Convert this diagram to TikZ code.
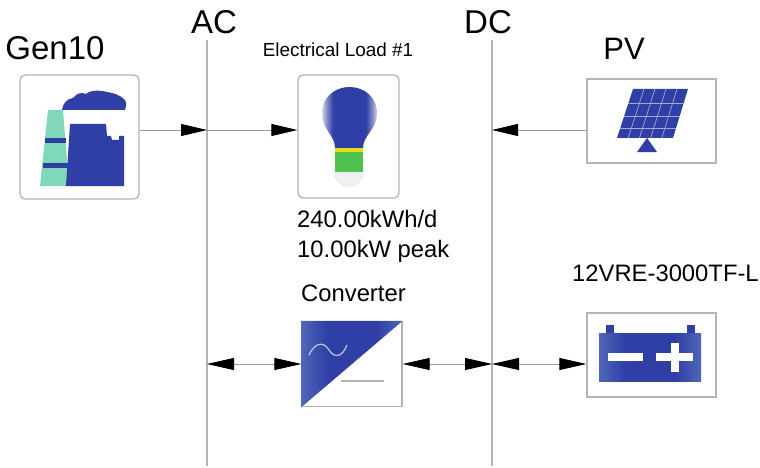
\documentclass[tikz,border=0pt]{standalone}
\usepackage{fontspec}
\setmainfont{Liberation Sans}
\usetikzlibrary{positioning,arrows.meta,shadings}
\definecolor{iconblue}{HTML}{2F3FA5}
\definecolor{iconlight}{HTML}{4F66B8}
\definecolor{mint}{HTML}{7FD9B8}
\definecolor{wire}{HTML}{B4B4B4}
\definecolor{bulbgreen}{HTML}{4CC24C}
\pgfdeclarehorizontalshading{bluefade}{100bp}{color(0bp)=(iconlight); color(25bp)=(iconlight); color(38bp)=(iconblue); color(62bp)=(iconblue); color(75bp)=(iconlight); color(100bp)=(iconlight)}
\pgfdeclarehorizontalshading{globefade}{100bp}{color(0bp)=(black!10); color(25bp)=(black!15); color(28bp)=(iconblue!50); color(35bp)=(iconblue); color(65bp)=(iconblue); color(72bp)=(iconblue!50); color(75bp)=(black!15); color(100bp)=(black!10)}
\tikzset{
  iconbox/.style={draw=wire, line width=1.3pt, fill=white, inner sep=0pt},
  roundbox/.style={iconbox, rounded corners=5pt},
  bus/.style={draw=wire, line width=1.3pt},
  flow/.style={draw=black!40, line width=0.8pt, {Triangle[length=27pt,width=12pt,black]}-{Triangle[length=27pt,width=12pt,black]}},
  oneway/.style={draw=black!40, line width=0.8pt, -{Triangle[length=26pt,width=12pt,black]}},
  bigtext/.style={font=\fontsize{33}{36}\selectfont, anchor=base, inner sep=0pt},
  midtext/.style={font=\fontsize{23.8}{30}\selectfont, anchor=base west, inner sep=0pt},
  bluepart/.style={shading=bluefade, draw=none},
  light/.style={draw=white!55!iconblue, line width=0.7pt}
}
\begin{document}
\begin{tikzpicture}[x=1pt,y=-1pt]
    \useasboundingbox (0,0) rectangle (760,468);
    \coordinate (actop) at (207,40);
    \coordinate (acbot) at (207,466);
    \coordinate (dctop) at (492,40);
    \coordinate (dcbot) at (492,466);
    \draw[bus] (actop) -- (acbot);
    \draw[bus] (dctop) -- (dcbot);
    \node[roundbox, minimum width=119pt, minimum height=124pt] (gen) at (79.5,137) {};
    \node[roundbox, minimum width=101pt, minimum height=123pt] (load) at (348.5,136.5) {};
    \node[iconbox, minimum width=129pt, minimum height=84pt] (pv) at (651.5,121) {};
    \node[iconbox, minimum width=100pt, minimum height=85pt] (conv) at (352,364) {};
    \node[iconbox, minimum width=129pt, minimum height=84pt] (batt) at (651.5,355) {};
    \coordinate (acgen) at (207,130);
    \coordinate (dcpv) at (492,130);
    \coordinate (acconv) at (conv.west -| actop);
    \coordinate (dcconv) at (conv.east -| dctop);
    \draw[oneway] (gen.east |- acgen) -- (acgen);
    \draw[oneway] (acgen) -- (load.west |- acgen);
    \draw[oneway] (pv.west |- dcpv) -- (dcpv);
    \draw[flow] (acconv) -- (conv.west);
    \draw[flow] (conv.east) -- (dcconv);
    \draw[flow] (dcconv) -- (conv.east -| batt.west);
    % labels
    \node[bigtext] (gentext) at (55,60) {Gen10};
    \node[bigtext] (actext) at (214,34) {AC};
    \node[bigtext] (dctext) at (488,34) {DC};
    \node[bigtext, font=\fontsize{31}{36}\selectfont] (pvtext) at (624,60) {PV};
    \node[anchor=base, inner sep=0pt, font=\fontsize{18.9}{22}\selectfont] (loadname) at (338,57) {Electrical Load \#1};
    \node[midtext, align=left, anchor=north west] (loadtext) at (297,210) {240.00kWh/d\\10.00kW peak};
    \node[midtext] (convtext) at (301,301) {Converter};
    \node[midtext] (batttext) at (572,281) {12VRE-3000TF-L};
    % power plant
    \fill[mint] (40,186) -- (48,110) -- (63,110) -- (69,186) -- cycle;
    \fill[iconblue] (45,138) rectangle (66,143);
    \fill[iconblue] (43,163) rectangle (68,168);
    \fill[iconblue] (66,186) -- (70,124) -- (106,124) -- (107,136) -- (111,136) -- (112,140) -- (119,140) -- (119,136) -- (124,136) -- (124,186) -- cycle;
    \fill[iconblue] (62,110) .. controls (63,104) and (66,99) .. (73,98) .. controls (77,93) and (81,92) .. (86,94) .. controls (90,90) and (100,90) .. (107,92) .. controls (114,93) and (120,95) .. (125,100) .. controls (127,104) and (126,107) .. (125,110) -- cycle;
    % bulb
    \path[shading=globefade] (335,148) .. controls (335,135) and (322,130) .. (322,113) .. controls (322,97) and (335,87) .. (349.5,87) .. controls (364,87) and (377,97) .. (377,113) .. controls (377,130) and (363,135) .. (363,148) -- cycle;
    \fill[yellow!90!black] (335,148) rectangle (363,152);
    \fill[bulbgreen] (335,152) rectangle (363,172);
    \filldraw[draw=black!15, fill=black!6] (335,172) -- (335,177) -- (343,186) -- (355,186) -- (363,177) -- (363,172) -- cycle;
    % solar panel
    \fill[iconblue] (633,89) -- (688,89) -- (673,138) -- (617,138) -- cycle;
    \foreach \t in {0.2,0.4,0.6,0.8}
      \draw[light] ({633+55*\t},89) -- ({617+56*\t},138);
    \foreach \t in {0.3,0.55,0.8}
      \draw[light] ({633-16*\t},{89+49*\t}) -- ({688-15*\t},{89+49*\t});
    \fill[iconblue] (647,138) -- (657,152) -- (637,152) -- cycle;
    % converter
    \path[bluepart] (conv.north west) -- (conv.north east) -- (conv.south west) -- cycle;
    \draw[white!70!iconblue, line width=1.2pt] (309,355) .. controls (316,340) and (325,343) .. (329,350) .. controls (334,358) and (342,358) .. (347,345);
    \draw[draw=wire, line width=1.3pt] (341,381) -- (384,381);
    % battery
    \path[bluepart] (599,333) rectangle (701,381);
    \fill[iconblue] (606,325) rectangle (614,333);
    \fill[iconblue] (687,325) rectangle (695,333);
    \fill[white] (608,353) rectangle (643,361);
    \fill[white] (656,353) rectangle (693,361);
    \fill[white] (671,343) rectangle (679,372);
\end{tikzpicture}
\end{document}
